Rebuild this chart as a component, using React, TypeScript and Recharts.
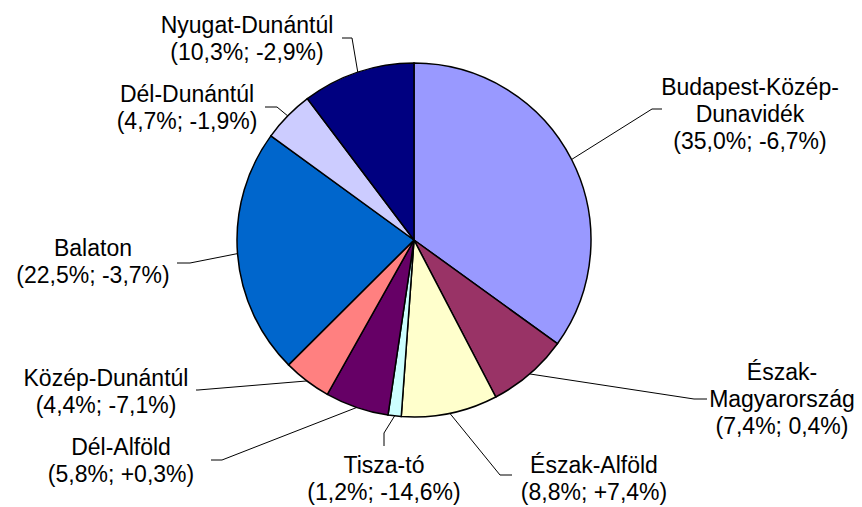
import { Cell, Pie, PieChart } from "recharts"

const regions = [
	"Budapest-Közép-Dunavidék",
	"Észak-Magyarország",
	"Észak-Alföld",
	"Tisza-tó",
	"Dél-Alföld",
	"Közép-Dunántúl",
	"Balaton",
	"Dél-Dunántúl",
	"Nyugat-Dunántúl"
]
const nameLines = [
	["Budapest-Közép-", "Dunavidék"],
	["Észak-", "Magyarország"],
	["Észak-Alföld"],
	["Tisza-tó"],
	["Dél-Alföld"],
	["Közép-Dunántúl"],
	["Balaton"],
	["Dél-Dunántúl"],
	["Nyugat-Dunántúl"]
]
const shares = [35.0, 7.4, 8.8, 1.2, 5.8, 4.4, 22.5, 4.7, 10.3]
const changes = ["-6,7%", "0,4%", "+7,4%", "-14,6%", "+0,3%", "-7,1%", "-3,7%", "-1,9%", "-2,9%"]
const colors = ["#9999FF", "#993366", "#FFFFCC", "#CCFFFF", "#660066", "#FF8080", "#0066CC", "#CCCCFF", "#000080"]

// where each label sits, and the leader line's bend and end
const labelLayout = [
	{ x: 750, y: 95, elbow: [652, 109], end: [662, 109] },
	{ x: 782, y: 380, elbow: [694, 399], end: [707, 399] },
	{ x: 594, y: 473, elbow: [500, 475], end: [512, 475] },
	{ x: 384, y: 473, elbow: [384, 433], end: [384, 446] },
	{ x: 121, y: 455, elbow: [222, 460], end: [211, 460] },
	{ x: 106, y: 386, elbow: [198, 390], end: [196, 390] },
	{ x: 93, y: 256, elbow: [190, 263], end: [177, 263] },
	{ x: 187, y: 102, elbow: [277, 107], end: [265, 107] },
	{ x: 247, y: 33, elbow: [352, 38], end: [342, 38] }
]

const data = regions.map((name, i) => ({ name, value: shares[i] }))

const fmt = (n: number) => n.toFixed(1).replace(".", ",")
const RAD = Math.PI / 180
const LINE_H = 27

const renderLabel = (props: any) => {
	const { cx, cy, midAngle, outerRadius, index } = props
	const px = cx + outerRadius * Math.cos(-midAngle * RAD)
	const py = cy + outerRadius * Math.sin(-midAngle * RAD)
	const l = labelLayout[index]
	const lines = [...nameLines[index], `(${fmt(shares[index])}%; ${changes[index]})`]
	return (
		<g>
			<polyline
				points={`${px},${py} ${l.elbow[0]},${l.elbow[1]} ${l.end[0]},${l.end[1]}`}
				fill="none"
				stroke="#000"
				strokeWidth={1}
			/>
			<text
				x={l.x}
				y={l.y}
				textAnchor="middle"
				fill="#000"
				fontSize={23}
				fontFamily="'Liberation Sans', Arial, sans-serif"
			>
				{lines.map((t, k) => (
					<tspan key={k} x={l.x} y={l.y + k * LINE_H}>
						{t}
					</tspan>
				))}
			</text>
		</g>
	)
}

export default function App() {
	return (
		<div style={{ position: "absolute", left: 0, top: 0, background: "#fff" }}>
			<PieChart width={862} height={507} margin={{ top: 0, right: 0, bottom: 0, left: 0 }}>
				<Pie
					data={data}
					dataKey="value"
					nameKey="name"
					cx={414}
					cy={240}
					outerRadius={177}
					startAngle={90}
					endAngle={-270}
					label={renderLabel}
					labelLine={false}
					isAnimationActive={false}
				>
					{data.map((d, i) => (
						<Cell key={d.name} fill={colors[i]} stroke="#000" strokeWidth={1.5} />
					))}
				</Pie>
			</PieChart>
		</div>
	)
}
